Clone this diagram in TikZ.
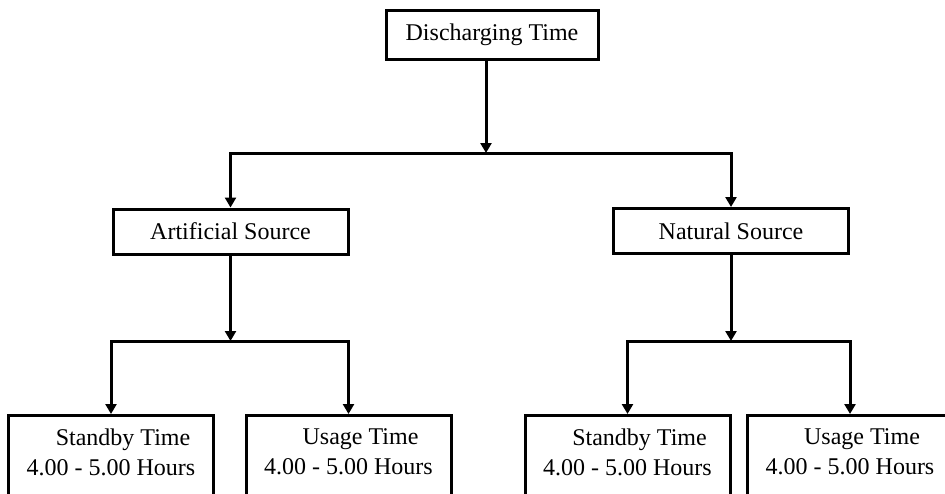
\documentclass[tikz,border=0pt]{standalone}
\usepackage{fontspec}
\setmainfont{Liberation Serif}
\usetikzlibrary{arrows.meta,positioning}
\tikzset{
  box/.style     = {shape=rectangle, draw, line width=3pt,
                    align=center, inner sep=0pt},
  source/.style  = {box, minimum width=235pt, minimum height=45pt},
  timebox/.style = {box, anchor=north, minimum width=205pt, inner ysep=13.6pt},
  link/.style    = {draw, line width=3pt, -{Triangle[length=10pt,width=11pt]}},
}
\newcommand{\timetext}[1]{\hspace*{24pt}#1\\4.00 - 5.00 Hours\rule[-40pt]{0pt}{0pt}}

\begin{document}
\begin{tikzpicture}[
        x = 1pt, y = -1pt,
        every node/.style = {font=\fontsize{24}{30}\selectfont}
    ]
    \useasboundingbox (0,0) rectangle (945,493);
    \clip (0,0) rectangle (945,493);

    % first level
    \node [box, minimum width=212pt, minimum height=49pt] (top) at (492,34.5) {Discharging Time};

    % second level
    \node [source] (artificial) at (230.5,231.5) {Artificial Source};
    \node [source] (natural)    at (731,231)     {Natural Source};

    % third level
    \node [timebox] (artstand) at (111,414)   {\timetext{Standby Time}};
    \node [timebox] (artuse)   at (348.5,414) {\timetext{Usage Time}};
    \node [timebox] (natstand) at (627.5,414) {\timetext{Standby Time}};
    \node [timebox] (natuse)   at (850,414)   {\timetext{Usage Time}};

    % junctions
    \coordinate (j1) at (486,153);
    \coordinate (j2) at (artificial.south |- 0,341);
    \coordinate (j3) at (natural.south |- 0,341);

    \draw [link] (top.south -| j1) -- (j1);
    \draw [link] (j1) -| (artificial.north);
    \draw [link] (j1) -| (natural.north);

    \draw [link] (artificial) -- (j2);
    \draw [link] (j2) -| (artstand.north);
    \draw [link] (j2) -| (artuse.north);

    \draw [link] (natural) -- (j3);
    \draw [link] (j3) -| (natstand.north);
    \draw [link] (j3) -| (natuse.north);
\end{tikzpicture}
\end{document}
